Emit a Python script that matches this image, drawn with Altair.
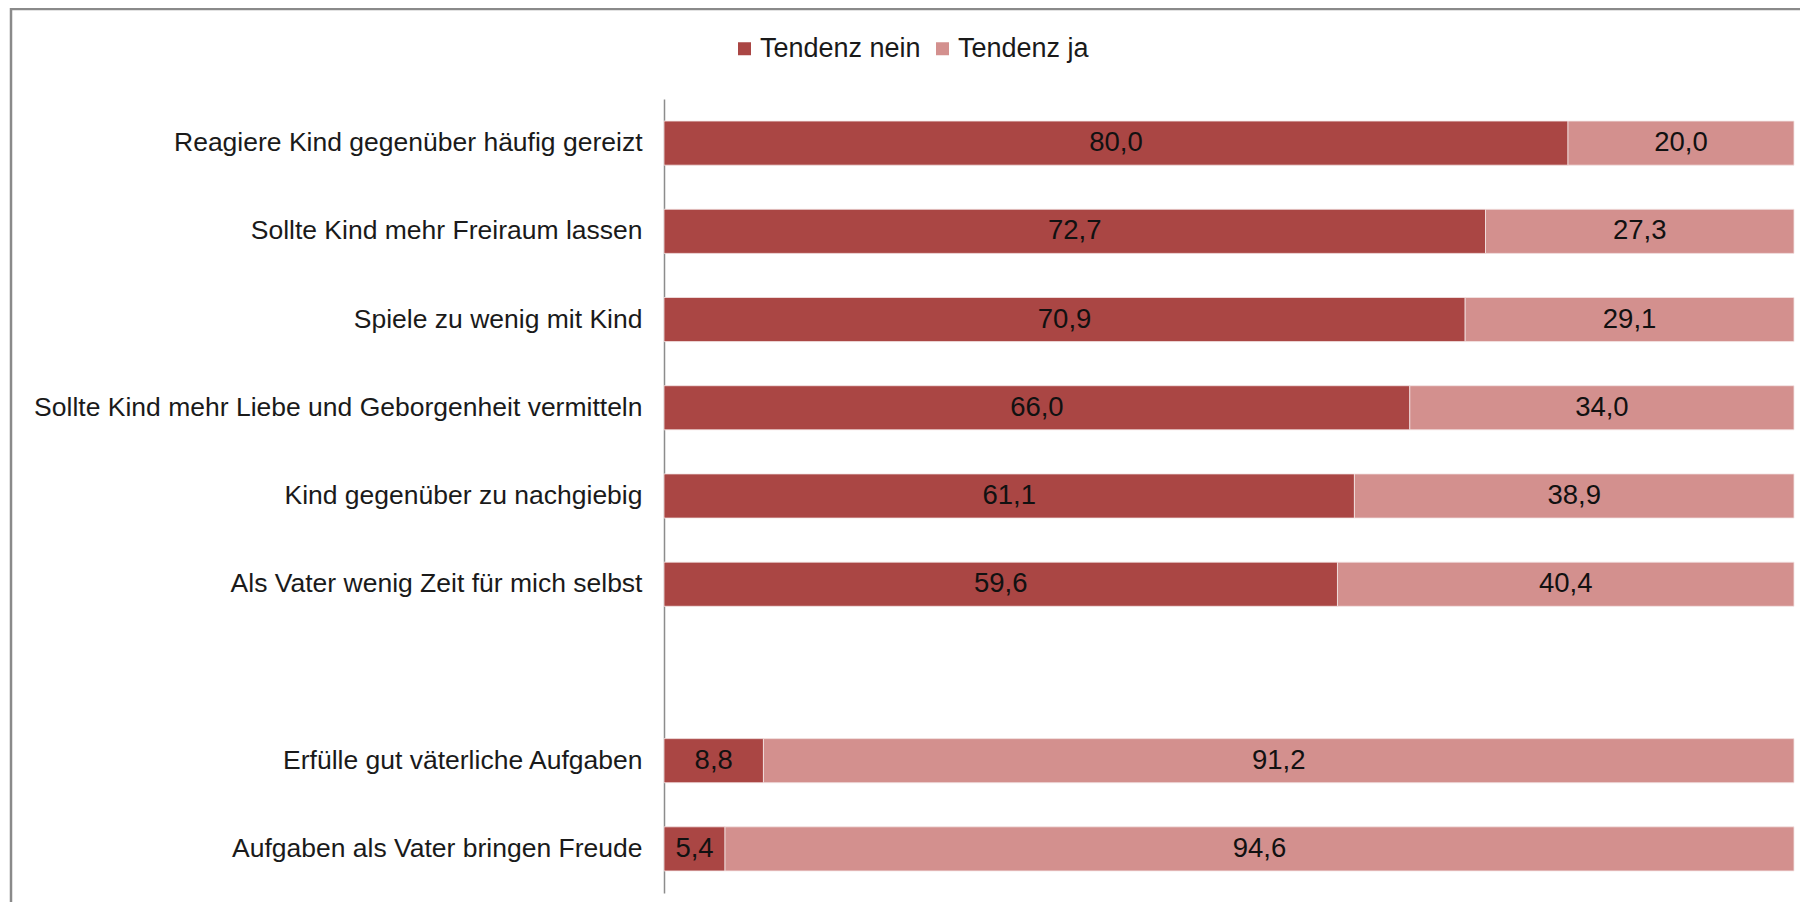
import altair as alt
import pandas as pd

items = [
    "Reagiere Kind gegenüber häufig gereizt",
    "Sollte Kind mehr Freiraum lassen",
    "Spiele zu wenig mit Kind",
    "Sollte Kind mehr Liebe und Geborgenheit vermitteln",
    "Kind gegenüber zu nachgiebig",
    "Als Vater wenig Zeit für mich selbst",
    "Erfülle gut väterliche Aufgaben",
    "Aufgaben als Vater bringen Freude",
]
nein = [80.0, 72.7, 70.9, 66.0, 61.1, 59.6, 8.8, 5.4]
ja = [20.0, 27.3, 29.1, 34.0, 38.9, 40.4, 91.2, 94.6]
series = ["Tendenz nein", "Tendenz ja"]
colors = ["#AA4644", "#D3908E"]

y_domain = items[:6] + [" "] + items[6:]

rows = []
for i, it in enumerate(items):
    rows.append({"item": it, "series": series[0], "value": nein[i], "ord": 0})
    rows.append({"item": it, "series": series[1], "value": ja[i], "ord": 1})
df = pd.DataFrame(rows)

W, H = 1130, 794

base = alt.Chart(df).transform_stack(
    stack="value", groupby=["item"], as_=["v0", "v1"],
    sort=[alt.SortField("ord", order="ascending")]
).transform_calculate(
    mid="(datum.v0 + datum.v1) / 2",
    lbl="replace(format(datum.value, '.1f'), '.', ',')"
)

yenc = alt.Y("item:N", scale=alt.Scale(domain=y_domain, paddingInner=0.5, paddingOuter=0.25),
             axis=alt.Axis(title=None, ticks=False, labelPadding=22, labelFontSize=26.5,
                           labelColor="#1a1a1a", labelLimit=800, domainColor="#8c8c8c",
                           domainWidth=1.5, grid=False))

bars = base.mark_bar(stroke="#f4e4e4", strokeWidth=0.8).encode(
    x=alt.X("v0:Q", scale=alt.Scale(domain=[0, 100], nice=False), axis=None),
    x2="v1:Q",
    y=yenc,
    color=alt.Color("series:N", scale=alt.Scale(domain=series, range=colors),
                    legend=alt.Legend(title=None, orient="none", direction="horizontal",
                                      legendX=67, legendY=-64, symbolType="square",
                                      symbolSize=169, symbolStrokeWidth=0,
                                      labelFontSize=27, labelColor="#1a1a1a",
                                      labelLimit=400,
                                      labelOffset=2, columnPadding=8)),
)

texts = base.mark_text(fontSize=27.5, color="#111111", baseline="middle", align="center").encode(
    x=alt.X("mid:Q", scale=alt.Scale(domain=[0, 100], nice=False), axis=None),
    y=alt.Y("item:N", scale=alt.Scale(domain=y_domain, paddingInner=0.5, paddingOuter=0.25)),
    text="lbl:N",
)

one = pd.DataFrame({"a": [0]})
border_top = alt.Chart(one).mark_rule(stroke="#8a8a8a", strokeWidth=2.5).encode(
    x=alt.value(-654), x2=alt.value(1200), y=alt.value(-90)
)
border_left = alt.Chart(one).mark_rule(stroke="#8a8a8a", strokeWidth=2.5).encode(
    x=alt.value(-653), y=alt.value(-91), y2=alt.value(1000)
)

chart = alt.layer(border_top, border_left, bars, texts).properties(
    width=W, height=H,
    autosize=alt.AutoSizeParams(type="none"),
    padding={"left": 656, "top": 91, "right": 6, "bottom": 9},
).configure(
    font="Liberation Sans"
).configure_view(stroke=None)

chart.save("out.html", embed_options={"renderer": "svg", "actions": False})
